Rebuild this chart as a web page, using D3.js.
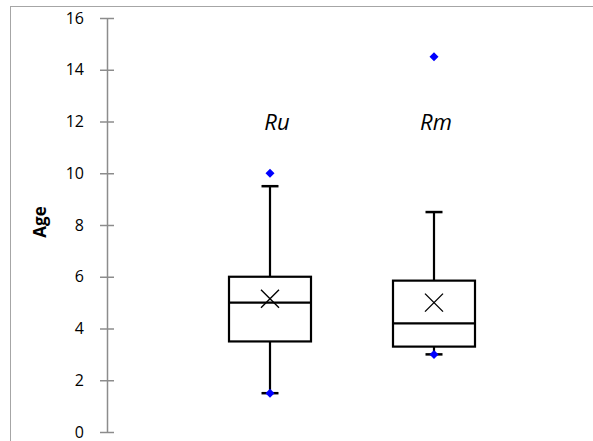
<!DOCTYPE html>
<html>
<head>
<meta charset="utf-8">
<script src="https://cdn.jsdelivr.net/npm/d3@7"></script>
<style>
  body { margin: 0; background: #fff; }
  text { font-family: "Open Sans", "Liberation Sans", sans-serif; }
</style>
</head>
<body>
<script>
const width = 593, height = 441;

// data
const categories = ["Ru", "Rm"];
const q1 = [3.5, 3.3];
const median = [5.0, 4.2];
const q3 = [6.0, 5.85];
const whiskerLow = [1.5, 3.0];
const whiskerHigh = [9.5, 8.5];
const means = [5.15, 5.0];
const outliers = [[10, 1.5], [14.5, 3.0]];
const yTicks = [0, 2, 4, 6, 8, 10, 12, 14, 16];

const svg = d3.select("body").append("svg")
  .attr("width", width)
  .attr("height", height);

// chart frame (runs off the right and bottom edges)
svg.append("rect")
  .attr("x", 10.5).attr("y", 6.5)
  .attr("width", 700).attr("height", 500)
  .attr("fill", "none")
  .attr("stroke", "#a6a6a6");

const y = d3.scaleLinear()
  .domain([0, 16])
  .range([432, 18]);

const x = d3.scaleBand()
  .domain(categories)
  .range([188, 516]);

// y axis
const yAxis = svg.append("g")
  .attr("transform", "translate(107,0)")
  .call(d3.axisLeft(y).tickValues(yTicks).tickSize(0).tickPadding(23));
yAxis.select(".domain").attr("stroke", "#8c8c8c").attr("stroke-width", 1.5);
yAxis.selectAll(".tick").append("line")
  .attr("x1", -7).attr("x2", 7)
  .attr("stroke", "#8c8c8c").attr("stroke-width", 1.5);
yAxis.selectAll(".tick text")
  .style("font-size", "16px")
  .style("font-family", "'Open Sans', sans-serif")
  .attr("fill", "#000");

svg.append("text")
  .attr("transform", "translate(46,222) rotate(-90)")
  .attr("text-anchor", "middle")
  .style("font-size", "17px")
  .attr("font-weight", "bold")
  .text("Age");

const boxW = x.bandwidth() * 0.5;
const capW = 17;
const labelShift = [7, 2];

categories.forEach(function(c, i) {
  const cx = x(c) + x.bandwidth() / 2;
  const g = svg.append("g")
    .attr("stroke", "#000")
    .attr("fill", "none");

  // whiskers
  g.append("line")
    .attr("x1", cx).attr("x2", cx)
    .attr("y1", y(q3[i])).attr("y2", y(whiskerHigh[i]))
    .attr("stroke-width", 2.2);
  g.append("line")
    .attr("x1", cx).attr("x2", cx)
    .attr("y1", y(q1[i])).attr("y2", y(whiskerLow[i]))
    .attr("stroke-width", 2.2);
  [whiskerHigh[i], whiskerLow[i]].forEach(function(v) {
    g.append("line")
      .attr("x1", cx - capW / 2).attr("x2", cx + capW / 2)
      .attr("y1", y(v)).attr("y2", y(v))
      .attr("stroke-width", 2.5);
  });

  // box
  g.append("rect")
    .attr("x", cx - boxW / 2)
    .attr("y", y(q3[i]))
    .attr("width", boxW)
    .attr("height", y(q1[i]) - y(q3[i]))
    .attr("fill", "#fff")
    .attr("stroke-width", 2.2);
  g.append("line")
    .attr("x1", cx - boxW / 2).attr("x2", cx + boxW / 2)
    .attr("y1", y(median[i])).attr("y2", y(median[i]))
    .attr("stroke-width", 2.2);

  // mean marker
  const my = y(means[i]), s = 9;
  g.append("path")
    .attr("d", `M${cx - s},${my - s}L${cx + s},${my + s}M${cx - s},${my + s}L${cx + s},${my - s}`)
    .attr("stroke-width", 1.4);

  // outliers
  svg.selectAll(null)
    .data(outliers[i])
    .enter()
      .append("path")
      .attr("transform", function(d) { return `translate(${cx},${y(d)})`; })
      .attr("d", "M0,-4.5L4.5,0L0,4.5L-4.5,0Z")
      .attr("fill", "#0000ff");

  // series label
  svg.append("text")
    .attr("x", cx + labelShift[i])
    .attr("y", 130)
    .attr("text-anchor", "middle")
    .style("font-size", "22px")
    .attr("font-style", "italic")
    .text(c);
});
</script>
</body>
</html>
